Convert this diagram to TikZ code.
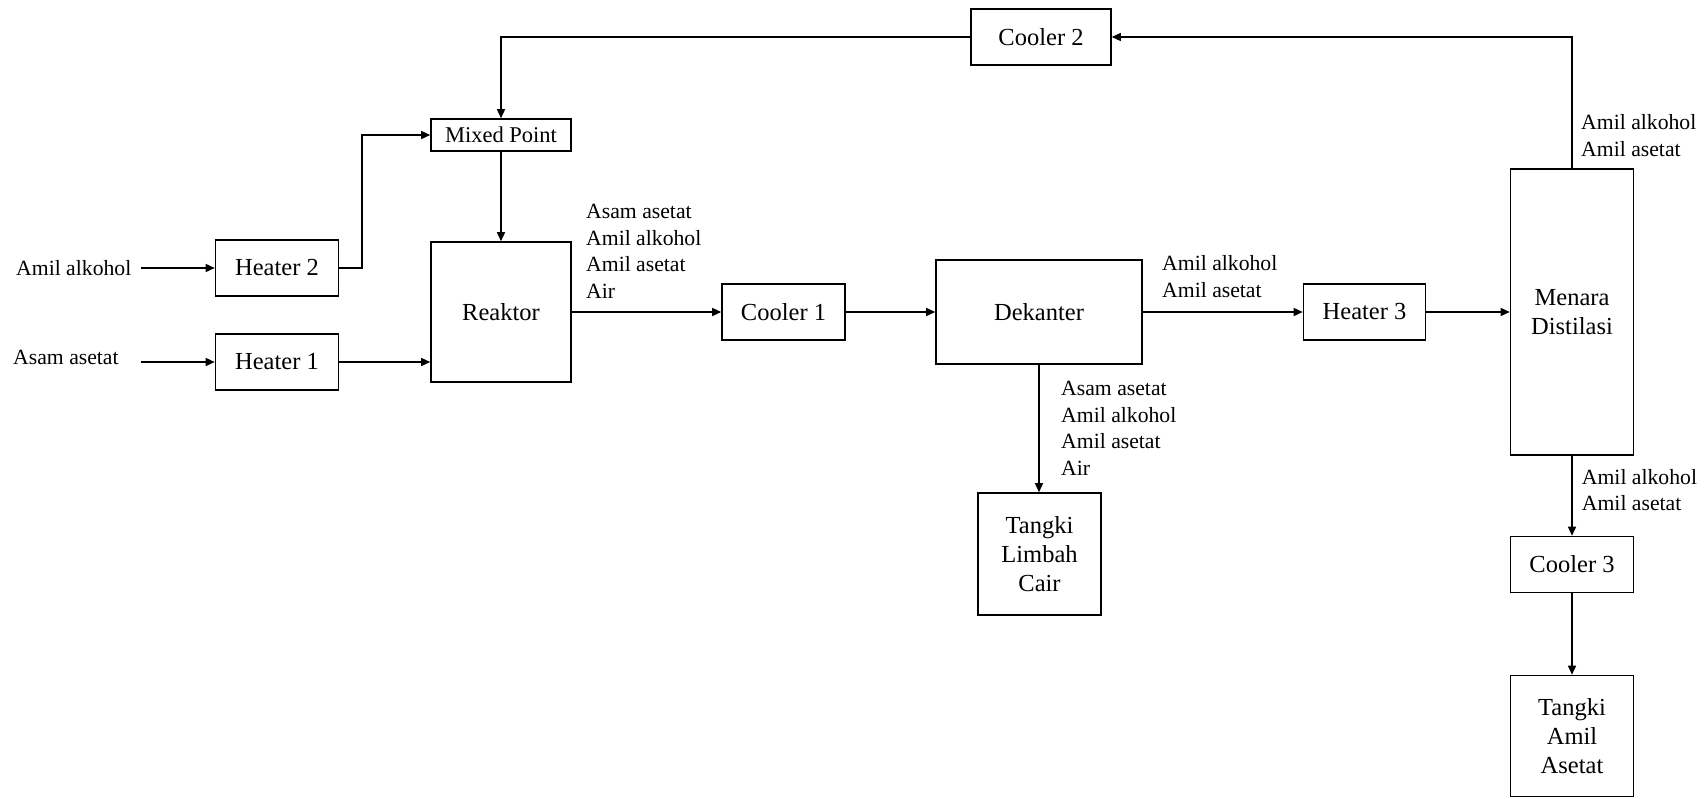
\documentclass[tikz,border=0pt]{standalone}
\usepackage{fontspec}
\setmainfont{Liberation Serif}
\usetikzlibrary{arrows.meta}
\tikzset{
  unit/.style={draw, line width=1.6pt, inner sep=0pt, align=center, font=\fontsize{24.5}{28.7}\selectfont},
  mixbox/.style={unit, font=\fontsize{22.5}{26}\selectfont},
  stream/.style={align=left, inner sep=0pt, anchor=west, font=\fontsize{21.7}{26.6}\selectfont},
  flow/.style={line width=1.5pt, -{Triangle[length=9pt,width=8pt]}},
  plain/.style={line width=1.5pt}
}
\begin{document}
\begin{tikzpicture}[x=1pt,y=-1pt]
\useasboundingbox (0,0) rectangle (1708,798);
% units
\node[unit, minimum width=123pt, minimum height=56pt] (heatB) at (277,268) {Heater 2};
\node[unit, minimum width=123pt, minimum height=56pt] (heatA) at (277,362) {Heater 1};
\node[mixbox, minimum width=140pt, minimum height=32pt] (mix) at (501,135) {Mixed Point};
\node[unit, minimum width=140pt, minimum height=140pt] (reak) at (501,312) {Reaktor};
\node[unit, minimum width=123pt, minimum height=56pt] (cool1) at (783.5,312) {Cooler 1};
\node[unit, minimum width=206pt, minimum height=104pt] (dek) at (1039,312) {Dekanter};
\node[unit, minimum width=123pt, minimum height=122pt] (limbah) at (1039.5,554) {Tangki\\Limbah\\Cair};
\node[unit, minimum width=122pt, minimum height=56pt] (heat3) at (1364.5,312) {Heater 3};
\node[unit, minimum width=123pt, minimum height=286pt] (menara) at (1572,312) {Menara\\Distilasi};
\node[unit, minimum width=140pt, minimum height=56pt] (cool2) at (1041,37) {Cooler 2};
\node[unit, minimum width=123pt, minimum height=56pt] (cool3) at (1572,564.5) {Cooler 3};
\node[unit, minimum width=123pt, minimum height=121pt] (tangki) at (1572,736) {Tangki\\Amil\\Asetat};
% feed labels
\node[stream] (lblAA) at (16,267.7) {Amil alkohol};
\node[stream] (lblAs) at (13,357) {Asam asetat};
\coordinate (inAA) at (141,268);
\coordinate (inAs) at (141,362);
% stream labels
\node[stream] (lblR) at (586,251.4) {Asam asetat\\Amil alkohol\\Amil asetat\\Air};
\node[stream] (lblD) at (1162,276.7) {Amil alkohol\\Amil asetat};
\node[stream] (lblL) at (1061,428.3) {Asam asetat\\Amil alkohol\\Amil asetat\\Air};
\node[stream] (lblT) at (1581,135.7) {Amil alkohol\\Amil asetat};
\node[stream] (lblB) at (1581.7,490) {Amil alkohol\\Amil asetat};
% connectors
\draw[flow] (inAA) -- (heatB.west);
\draw[flow] (inAs) -- (heatA.west);
\draw[flow] (heatB.east) -- (362,268) |- (mix.west);
\draw[flow] (heatA.east) -- (reak.west |- heatA.east);
\draw[flow] (mix.south) -- (reak.north);
\draw[flow] (reak.east) -- (cool1.west);
\draw[flow] (cool1.east) -- (dek.west);
\draw[flow] (dek.east) -- (heat3.west);
\draw[flow] (heat3.east) -- (menara.west);
\draw[flow] (menara.north) |- (cool2.east);
\draw[flow] (cool2.west) -| (mix.north);
\draw[flow] (dek.south) -- (dek.south |- limbah.north);
\draw[flow] (menara.south) -- (cool3.north);
\draw[flow] (cool3.south) -- (tangki.north);
\end{tikzpicture}
\end{document}
